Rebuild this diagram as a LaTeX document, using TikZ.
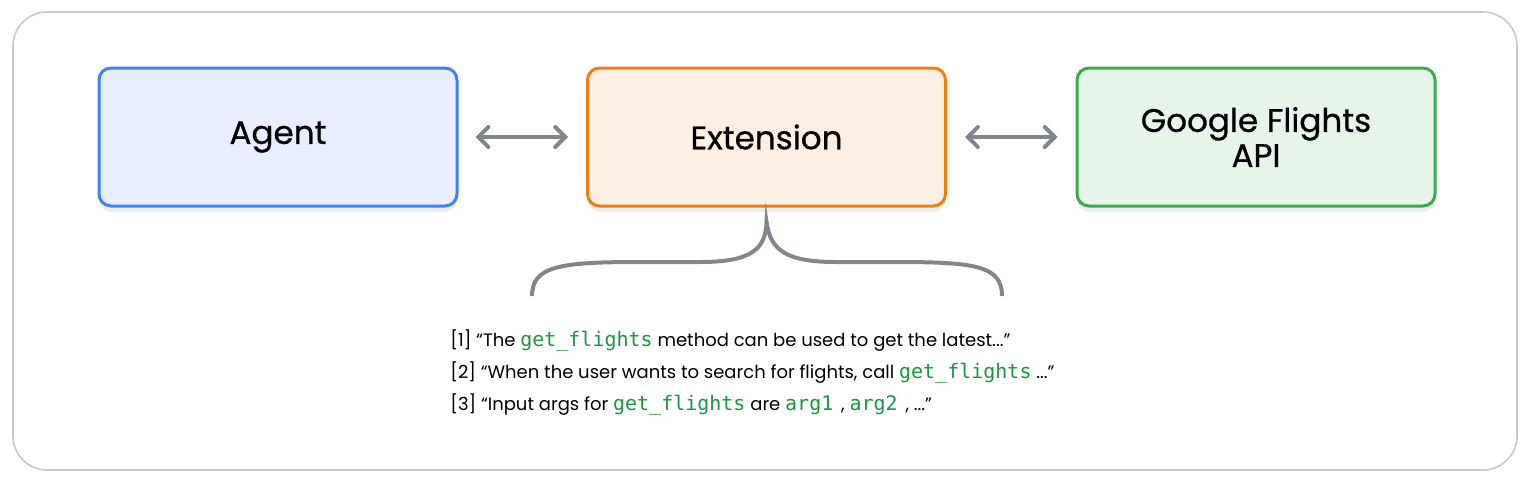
\documentclass[tikz,border=0pt]{standalone}
\usepackage{fontspec}
\setmainfont{Poppins}
\newfontfamily\boxfont{Poppins}[FakeBold=0.7]
\newfontfamily\codefont{DejaVu Sans Mono}
\usetikzlibrary{arrows.meta,shadows}
\definecolor{outerc}{HTML}{C9C9CB}
\definecolor{bluec}{HTML}{4182F2}
\definecolor{bluef}{HTML}{E8EEFD}
\definecolor{orangec}{HTML}{EF7E12}
\definecolor{orangef}{HTML}{FDEFE3}
\definecolor{greenc}{HTML}{3CAB50}
\definecolor{greenf}{HTML}{E6F4EA}
\definecolor{grayc}{HTML}{80868B}
\definecolor{codec}{HTML}{1E9440}
\newcommand{\cd}[1]{{\codefont\fontsize{10}{11}\selectfont\color{codec}#1}}
\tikzset{
  box/.style={draw, line width=1.5pt, rounded corners=6pt, minimum width=179pt, minimum height=69pt,
    inner sep=0pt, align=center, font=\boxfont\fontsize{16.3}{17.5}\selectfont,
    drop shadow={opacity=0.07, shadow xshift=0pt, shadow yshift=-3pt, fill=black}},
  arr/.style={draw=grayc, line width=2pt, line cap=round, {Straight Barb[length=5pt,width=10pt,line cap=round]}-{Straight Barb[length=5pt,width=10pt,line cap=round]}},
  bracec/.style={draw=grayc, line width=2pt},
  txt/.style={anchor=west, inner sep=0pt, font=\fontsize{9.0}{11}\selectfont}
}
\begin{document}
\begin{tikzpicture}[x=0.5pt,y=-0.5pt]
\useasboundingbox (0,0) rectangle (1536,493);
\draw[outerc, line width=0.8pt, rounded corners=17pt] (13,12) rectangle (1517,470);
\node[box, draw=bluec, fill=bluef] (agent) at (278,137) {Agent};
\node[box, draw=orangec, fill=orangef] (ext) at (766.5,137) {Extension};
\node[box, draw=greenc, fill=greenf] (gfa) at (1256,137) {Google Flights\\API};
\draw[arr] ([xshift=8.5pt]agent.east) -- ([xshift=-9pt]ext.west);
\draw[arr] ([xshift=9pt]ext.east) -- ([xshift=-9pt]gfa.west);
\coordinate (bl) at (532,296);
\coordinate (br) at (1002,296);
\coordinate (tip) at ([yshift=-7pt]ext.south);
\draw[bracec] (bl) .. controls (532,266) and (560,262) .. (640,262) -- (700,262)
  .. controls (750,262) and (766,250) .. (tip)
  .. controls (770,250) and (786,262) .. (836,262) -- (896,262)
  .. controls (976,262) and (1002,266) .. (br);
\node[txt] (l1) at (450,341) {[1] “The \cd{get\_flights} method can be used to get the latest...”};
\node[txt] (l2) at (450,373) {[2] “When the user wants to search for flights, call \cd{get\_flights} ...”};
\node[txt] (l3) at (450,405) {[3] “Input args for \cd{get\_flights} are \cd{arg1}\, , \cd{arg2}\, , ...”};
\end{tikzpicture}
\end{document}
